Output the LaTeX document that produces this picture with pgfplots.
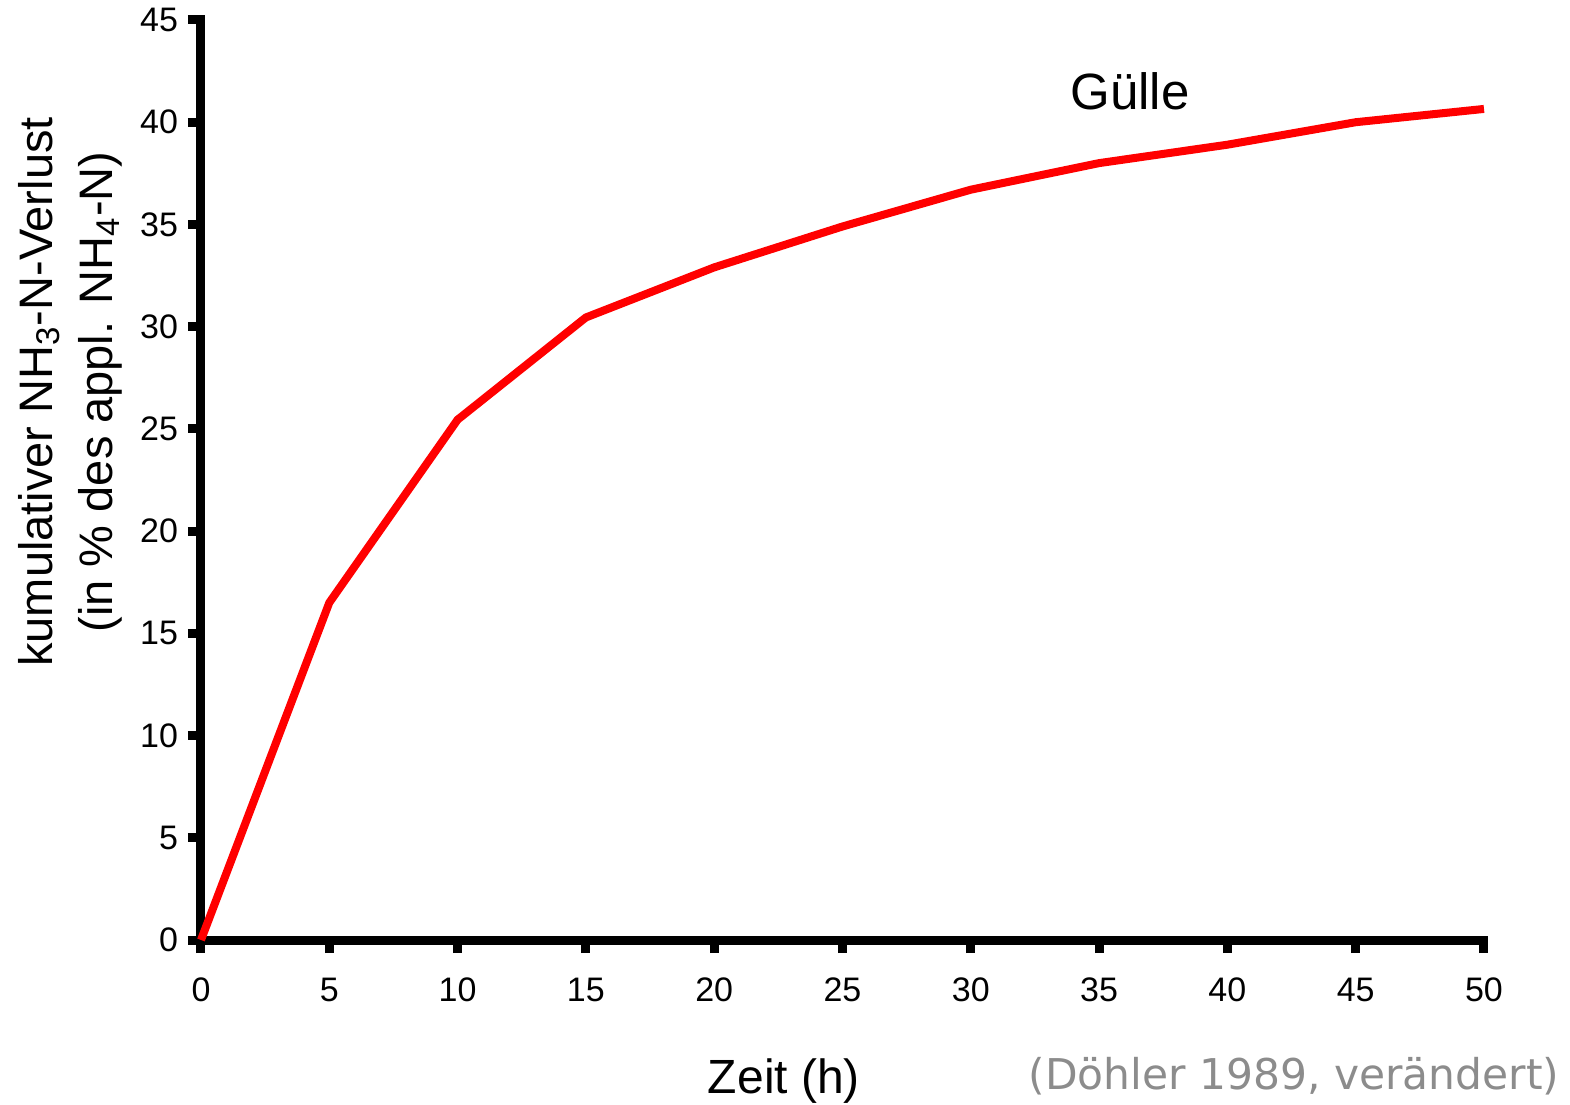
\documentclass[border=0pt]{standalone}
\usepackage{fontspec}
\setmainfont{Liberation Sans}
\newfontfamily\dejavu{DejaVu Sans}
\usepackage{pgfplots}
\pgfplotsset{compat=1.18}
\definecolor{srcgray}{RGB}{140,140,140}
\definecolor{linered}{RGB}{255,0,0}
\begin{document}
\begin{tikzpicture}
\begin{axis}[
  at={(0,0)}, anchor=south west,
  scale only axis, width=641.5pt, height=460pt,
  xmin=0, xmax=50, ymin=0, ymax=45,
  xtick={0,5,...,50}, ytick={0,5,...,45},
  axis lines=left,
  axis line style={-, line width=4.5pt, line cap=rect, black},
  tick style={line width=4.5pt, black},
  tick align=outside, major tick length=6.5pt,
  /pgf/number format/assume math mode=true,
  ticklabel style={font=\fontsize{17}{20}\selectfont},
  xticklabel style={yshift=-9pt},
  yticklabel style={xshift=-1.5pt},
  clip=false,
  xlabel={Zeit (h)},
  xlabel style={font=\fontsize{24}{28}\selectfont, at={(axis description cs:0.4544,-0.1663)}, anchor=base},
  ylabel={kumulativer NH\textsubscript{3}-N-Verlust\\(in \% des appl. NH\textsubscript{4}-N)},
  ylabel style={align=center, font=\fontsize{23.5}{30}\selectfont, at={(axis description cs:-0.1021,0.5957)}, anchor=center},
]
\addplot[linered, line width=4pt] coordinates {
  (0,0) (5,16.5) (10,25.45) (15,30.45) (20,32.9) (25,34.9) (30,36.7) (35,38.0) (40,38.9) (45,40.0) (50,40.65)
};
\node[anchor=base west, inner sep=0pt, font=\fontsize{25.5}{30}\selectfont] at (axis cs:33.87,40.6) {Gülle};
\node[anchor=base east, inner sep=0pt, text=srcgray, font=\dejavu\fontsize{21.2}{25}\selectfont] at (axis description cs:1.059,-0.163) {(Döhler 1989, verändert)};
\end{axis}
\pgfresetboundingbox
\path[use as bounding box] (-100.5pt,-82pt) rectangle (684.5pt,470pt);
\end{tikzpicture}
\end{document}
